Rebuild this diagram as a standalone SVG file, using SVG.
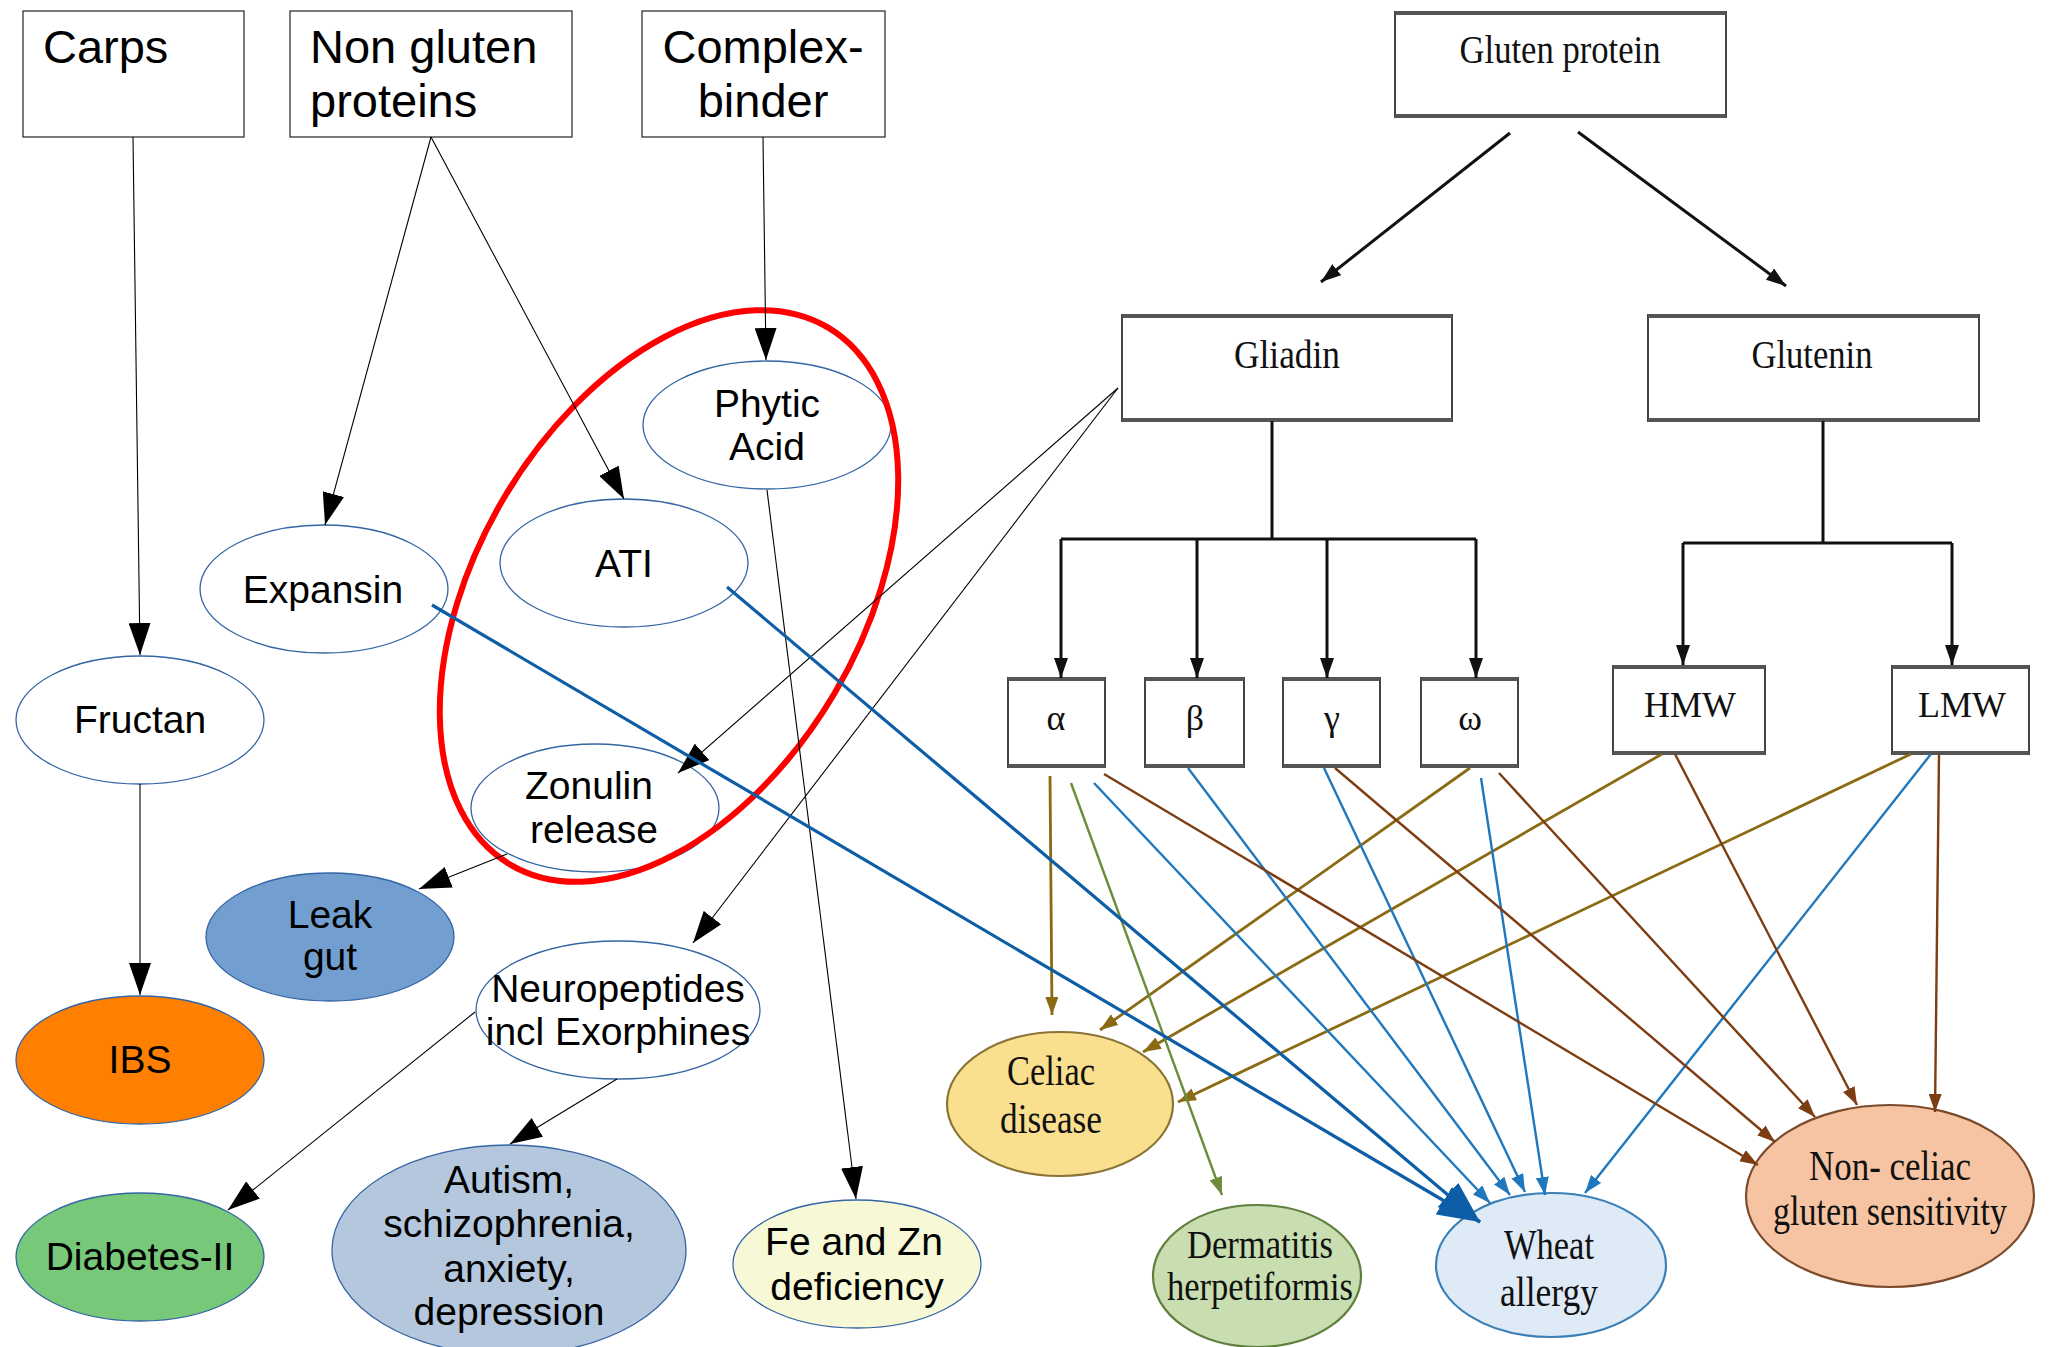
<svg xmlns="http://www.w3.org/2000/svg" width="2058" height="1347" viewBox="0 0 2058 1347">
<style>
.bx{fill:#fff;stroke:#333;stroke-width:1.3}
.el{fill:#fff;stroke:#3465a4;stroke-width:1.3}
.t{font-family:"Liberation Sans",Arial,sans-serif;fill:#000}
.t47{font-size:47px}
.t39{font-size:39px;text-anchor:middle}
.s{font-family:"Liberation Serif","Times New Roman",serif;fill:#111;text-anchor:middle}
.rb{fill:#fff;stroke:#444;stroke-width:2}
.rbe{stroke:#555;stroke-width:4}
.lk{stroke:#000;stroke-width:1.1;fill:none}
.tr{stroke:#111;stroke-width:3;fill:none}
.ol{stroke:#8a6b14;stroke-width:2.8;fill:none}
.br{stroke:#7d3d12;stroke-width:2.4;fill:none}
.bl{stroke:#1f78bd;stroke-width:2.4;fill:none}
.gr{stroke:#6c8c3c;stroke-width:2.4;fill:none}
.db{stroke:#0d5ea6;stroke-width:3.2;fill:none}
</style>
<defs>
<marker id="mk" markerUnits="userSpaceOnUse" markerWidth="32" markerHeight="22" refX="32" refY="11" orient="auto"><path d="M0,0 L32,11 L0,22 z" fill="#000"/></marker>
<marker id="mt" markerUnits="userSpaceOnUse" markerWidth="20" markerHeight="14" refX="20" refY="7" orient="auto"><path d="M0,0 L20,7 L0,14 z" fill="#111"/></marker>
<marker id="mo" markerUnits="userSpaceOnUse" markerWidth="18" markerHeight="13" refX="18" refY="6.5" orient="auto"><path d="M0,0 L18,6.5 L0,13 z" fill="#8a6b14"/></marker>
<marker id="mbr" markerUnits="userSpaceOnUse" markerWidth="18" markerHeight="13" refX="18" refY="6.5" orient="auto"><path d="M0,0 L18,6.5 L0,13 z" fill="#7d3d12"/></marker>
<marker id="mbl" markerUnits="userSpaceOnUse" markerWidth="18" markerHeight="13" refX="18" refY="6.5" orient="auto"><path d="M0,0 L18,6.5 L0,13 z" fill="#1f78bd"/></marker>
<marker id="mg" markerUnits="userSpaceOnUse" markerWidth="18" markerHeight="13" refX="18" refY="6.5" orient="auto"><path d="M0,0 L18,6.5 L0,13 z" fill="#6c8c3c"/></marker>
<marker id="mdb" markerUnits="userSpaceOnUse" markerWidth="42" markerHeight="32" refX="42" refY="16" orient="auto"><path d="M0,0 L42,16 L0,32 z" fill="#0d5ea6"/></marker>
</defs>
<rect width="2058" height="1347" fill="#fff"/>

<!-- left nodes -->
<g id="carps"><rect class="bx" x="23" y="11" width="221" height="126"/><text class="t t47" x="43" y="63">Carps</text></g>
<g id="nongluten"><rect class="bx" x="290" y="11" width="282" height="126"/><text class="t t47" x="310" y="63">Non gluten</text><text class="t t47" x="310" y="117">proteins</text></g>
<g id="complex"><rect class="bx" x="642" y="11" width="243" height="126"/><text class="t t47" x="763" y="63" text-anchor="middle">Complex-</text><text class="t t47" x="763" y="117" text-anchor="middle">binder</text></g>
<g id="phytic"><ellipse class="el" cx="767" cy="425" rx="124" ry="64"/><text class="t t39" x="767" y="417">Phytic</text><text class="t t39" x="767" y="460">Acid</text></g>
<g id="ati"><ellipse class="el" cx="624" cy="563" rx="124" ry="64"/><text class="t t39" x="624" y="577">ATI</text></g>
<g id="expansin"><ellipse class="el" cx="324" cy="589" rx="124" ry="64"/><text class="t t39" x="323" y="603">Expansin</text></g>
<g id="fructan"><ellipse class="el" cx="140" cy="720" rx="124" ry="64"/><text class="t t39" x="140" y="733">Fructan</text></g>
<g id="zonulin"><ellipse class="el" cx="595" cy="808" rx="124" ry="64"/><text class="t t39" x="589" y="799">Zonulin</text><text class="t t39" x="594" y="843">release</text></g>
<g id="leakgut"><ellipse class="el" cx="330" cy="937" rx="124" ry="64" style="fill:#729fcf"/><text class="t t39" x="330" y="928">Leak</text><text class="t t39" x="330" y="970">gut</text></g>
<g id="ibs"><ellipse class="el" cx="140" cy="1060" rx="124" ry="64" style="fill:#ff8000"/><text class="t t39" x="140" y="1073">IBS</text></g>
<g id="neuro"><ellipse class="el" cx="618" cy="1010" rx="142" ry="69"/><text class="t t39" x="618" y="1002">Neuropeptides</text><text class="t t39" x="618" y="1045">incl Exorphines</text></g>
<g id="diabetes"><ellipse class="el" cx="140" cy="1257" rx="124" ry="64" style="fill:#77c878"/><text class="t t39" x="140" y="1270">Diabetes-II</text></g>
<g id="autism"><ellipse class="el" cx="509" cy="1250" rx="177" ry="105" style="fill:#b4c7dc"/><text class="t t39" x="509" y="1193">Autism,</text><text class="t t39" x="509" y="1237">schizophrenia,</text><text class="t t39" x="509" y="1282">anxiety,</text><text class="t t39" x="509" y="1325">depression</text></g>
<g id="fezn"><ellipse class="el" cx="857" cy="1264" rx="124" ry="64" style="fill:#f6f8d6"/><text class="t t39" x="854" y="1255">Fe and Zn</text><text class="t t39" x="857" y="1300">deficiency</text></g>

<!-- highlight -->
<ellipse id="highlight" cx="669" cy="596" rx="192" ry="312" transform="rotate(30.6 669 596)" fill="none" stroke="#ff0000" stroke-width="6"/>

<!-- right nodes -->
<g id="gluten"><rect class="rb" x="1395" y="12" width="331" height="105"/><line class="rbe" x1="1395" y1="13" x2="1726" y2="13"/><line class="rbe" x1="1395" y1="116" x2="1726" y2="116"/><text class="s" x="1560" y="63" font-size="41" textLength="201" lengthAdjust="spacingAndGlyphs">Gluten protein</text></g>
<g id="gliadin"><rect class="rb" x="1122" y="315" width="330" height="106"/><line class="rbe" x1="1122" y1="316" x2="1452" y2="316"/><line class="rbe" x1="1122" y1="420" x2="1452" y2="420"/><text class="s" x="1287" y="368" font-size="41" textLength="106" lengthAdjust="spacingAndGlyphs">Gliadin</text></g>
<g id="glutenin"><rect class="rb" x="1648" y="315" width="331" height="106"/><line class="rbe" x1="1648" y1="316" x2="1979" y2="316"/><line class="rbe" x1="1648" y1="420" x2="1979" y2="420"/><text class="s" x="1812" y="368" font-size="41" textLength="121" lengthAdjust="spacingAndGlyphs">Glutenin</text></g>
<g id="alpha"><rect class="rb" x="1008" y="678" width="97" height="89"/><line class="rbe" x1="1008" y1="679" x2="1105" y2="679"/><line class="rbe" x1="1008" y1="766" x2="1105" y2="766"/><text class="s" x="1056" y="730" font-size="36">α</text></g>
<g id="beta"><rect class="rb" x="1145" y="678" width="99" height="89"/><line class="rbe" x1="1145" y1="679" x2="1244" y2="679"/><line class="rbe" x1="1145" y1="766" x2="1244" y2="766"/><text class="s" x="1195" y="730" font-size="36">β</text></g>
<g id="gamma"><rect class="rb" x="1283" y="678" width="97" height="89"/><line class="rbe" x1="1283" y1="679" x2="1380" y2="679"/><line class="rbe" x1="1283" y1="766" x2="1380" y2="766"/><text class="s" x="1332" y="730" font-size="36">γ</text></g>
<g id="omega"><rect class="rb" x="1421" y="678" width="97" height="89"/><line class="rbe" x1="1421" y1="679" x2="1518" y2="679"/><line class="rbe" x1="1421" y1="766" x2="1518" y2="766"/><text class="s" x="1470" y="730" font-size="36">ω</text></g>
<g id="hmw"><rect class="rb" x="1613" y="666" width="152" height="88"/><line class="rbe" x1="1613" y1="667" x2="1765" y2="667"/><line class="rbe" x1="1613" y1="753" x2="1765" y2="753"/><text class="s" x="1690" y="717" font-size="36">HMW</text></g>
<g id="lmw"><rect class="rb" x="1892" y="666" width="137" height="88"/><line class="rbe" x1="1892" y1="667" x2="2029" y2="667"/><line class="rbe" x1="1892" y1="753" x2="2029" y2="753"/><text class="s" x="1962" y="717" font-size="36">LMW</text></g>
<g id="celiac"><ellipse cx="1060" cy="1104" rx="113" ry="72" fill="#fadf8f" stroke="#8a7536" stroke-width="2.2"/><text class="s" x="1051" y="1085" font-size="42" textLength="88" lengthAdjust="spacingAndGlyphs">Celiac</text><text class="s" x="1051" y="1133" font-size="42" textLength="102" lengthAdjust="spacingAndGlyphs">disease</text></g>
<g id="dermatitis"><ellipse cx="1257" cy="1276" rx="104" ry="71" fill="#c8deb0" stroke="#5f7f3c" stroke-width="2.2"/><text class="s" x="1260" y="1258" font-size="41" textLength="146" lengthAdjust="spacingAndGlyphs">Dermatitis</text><text class="s" x="1260" y="1300" font-size="41" textLength="186" lengthAdjust="spacingAndGlyphs">herpetiformis</text></g>
<g id="wheat"><ellipse cx="1551" cy="1265" rx="115" ry="72" fill="#deeaf6" stroke="#3b80b6" stroke-width="2.2"/><text class="s" x="1549" y="1259" font-size="42" textLength="90" lengthAdjust="spacingAndGlyphs">Wheat</text><text class="s" x="1549" y="1306" font-size="42" textLength="98" lengthAdjust="spacingAndGlyphs">allergy</text></g>
<g id="noncel"><ellipse cx="1890" cy="1196" rx="144" ry="91" fill="#f6c4a2" stroke="#7a4a2a" stroke-width="2.2"/><text class="s" x="1890" y="1180" font-size="43" textLength="162" lengthAdjust="spacingAndGlyphs">Non- celiac</text><text class="s" x="1890" y="1225" font-size="42" textLength="234" lengthAdjust="spacingAndGlyphs">gluten sensitivity</text></g>

<!-- connectors -->
<g id="connectors">
<line class="lk" x1="133" y1="137" x2="140" y2="655" marker-end="url(#mk)"/>
<line class="lk" x1="140" y1="784" x2="140" y2="995" marker-end="url(#mk)"/>
<line class="lk" x1="431" y1="137" x2="325" y2="525" marker-end="url(#mk)"/>
<line class="lk" x1="431" y1="137" x2="624" y2="499" marker-end="url(#mk)"/>
<line class="lk" x1="763" y1="137" x2="766" y2="360" marker-end="url(#mk)"/>
<line class="lk" x1="767" y1="490" x2="856" y2="1199" marker-end="url(#mk)"/>
<line class="lk" x1="1118" y1="388" x2="678" y2="773" marker-end="url(#mk)"/>
<line class="lk" x1="1118" y1="388" x2="693" y2="943" marker-end="url(#mk)"/>
<line class="lk" x1="617" y1="1079" x2="510" y2="1144" marker-end="url(#mk)"/>
<line class="lk" x1="475" y1="1012" x2="228" y2="1210" marker-end="url(#mk)"/>
<line class="lk" x1="507" y1="854" x2="419" y2="889" marker-end="url(#mk)"/>

<line class="tr" x1="1510" y1="133" x2="1321" y2="282" marker-end="url(#mt)"/>
<line class="tr" x1="1578" y1="132" x2="1786" y2="286" marker-end="url(#mt)"/>
<path class="tr" d="M1272,421 V539 M1061,539 H1476"/>
<line class="tr" x1="1061" y1="539" x2="1061" y2="678" marker-end="url(#mt)"/>
<line class="tr" x1="1197" y1="539" x2="1197" y2="678" marker-end="url(#mt)"/>
<line class="tr" x1="1327" y1="539" x2="1327" y2="678" marker-end="url(#mt)"/>
<line class="tr" x1="1476" y1="539" x2="1476" y2="678" marker-end="url(#mt)"/>
<path class="tr" d="M1823,421 V543 M1683,543 H1952"/>
<line class="tr" x1="1683" y1="543" x2="1683" y2="665" marker-end="url(#mt)"/>
<line class="tr" x1="1952" y1="543" x2="1952" y2="665" marker-end="url(#mt)"/>

<line class="ol" x1="1050" y1="776" x2="1052" y2="1015" marker-end="url(#mo)"/>
<line class="ol" x1="1470" y1="768" x2="1100" y2="1030" marker-end="url(#mo)"/>
<line class="ol" x1="1662" y1="754" x2="1143" y2="1052" marker-end="url(#mo)"/>
<line class="ol" x1="1911" y1="754" x2="1178" y2="1102" marker-end="url(#mo)"/>
<line class="gr" x1="1071" y1="783" x2="1222" y2="1195" marker-end="url(#mg)"/>
<line class="bl" x1="1094" y1="783" x2="1490" y2="1203" marker-end="url(#mbl)"/>
<line class="bl" x1="1188" y1="768" x2="1510" y2="1195" marker-end="url(#mbl)"/>
<line class="bl" x1="1324" y1="768" x2="1525" y2="1192" marker-end="url(#mbl)"/>
<line class="bl" x1="1481" y1="778" x2="1545" y2="1195" marker-end="url(#mbl)"/>
<line class="bl" x1="1931" y1="754" x2="1585" y2="1193" marker-end="url(#mbl)"/>
<line class="br" x1="1104" y1="774" x2="1758" y2="1165" marker-end="url(#mbr)"/>
<line class="br" x1="1335" y1="768" x2="1775" y2="1142" marker-end="url(#mbr)"/>
<line class="br" x1="1499" y1="773" x2="1815" y2="1117" marker-end="url(#mbr)"/>
<line class="br" x1="1675" y1="754" x2="1857" y2="1105" marker-end="url(#mbr)"/>
<line class="br" x1="1939" y1="754" x2="1935" y2="1112" marker-end="url(#mbr)"/>

<line class="db" x1="727" y1="587" x2="1480" y2="1222" marker-end="url(#mdb)"/>
<line class="db" x1="432" y1="605" x2="1480" y2="1222" marker-end="url(#mdb)"/>
</g>
</svg>
